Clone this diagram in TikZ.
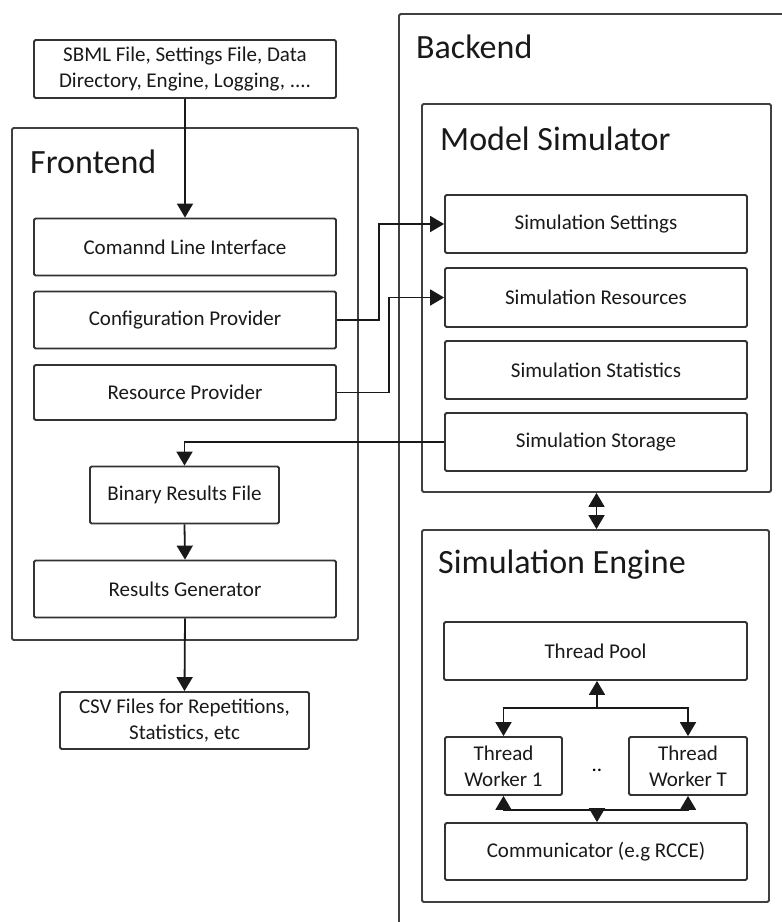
\documentclass[tikz,border=0pt]{standalone}
\usepackage{fontspec}
\setmainfont{Carlito}
\usepackage{xcolor}
\usepackage{tikz}
\usetikzlibrary{arrows.meta}

\begin{document}
\begin{tikzpicture}[x=1pt, y=-1pt,
  box/.style={draw=black!80, line width=1.8pt, rounded corners=1.5pt, minimum width=302pt, minimum height=57pt, inner sep=0pt, align=center, text=black!90, font=\fontsize{21}{26}\selectfont},
  frame/.style={draw=black!75, line width=1.8pt, rounded corners=1.5pt, inner sep=0pt},
  title/.style={anchor=west, inner sep=0pt, text=black!90, font=\fontsize{34}{40}\selectfont},
  arr/.style={-{Triangle[width=16pt,length=14pt]}, line width=1.8pt, draw=black!90},
  dbl/.style={{Triangle[width=16pt,length=14pt]}-{Triangle[width=16pt,length=14pt]}, line width=1.8pt, draw=black!90}]
\useasboundingbox (0,0) rectangle (782,922);

% Frames
\node[frame, minimum width=346pt, minimum height=512pt] (fe) at (185,384) {};
\node[frame, minimum width=401pt, minimum height=926pt] (be) at (599.5,477) {};
\node[frame, minimum width=349pt, minimum height=388pt] (ms) at (596.5,298) {};
\node[frame, minimum width=347pt, minimum height=372pt] (se) at (595.5,716) {};

\node[title] (fetitle) at (30,162) {Frontend};
\node[title] (betitle) at (416,47) {Backend};
\node[title] (mstitle) at (440,139) {Model Simulator};
\node[title] (setitle) at (438,565) {Simulation Engine};

% Frontend
\node[box, minimum height=58pt] (inp) at (185,69) {SBML File, Settings File, Data\\Directory, Engine, Logging, ....};
\node[box] (cli) at (185,247) {Comannd Line Interface};
\node[box] (conf) at (185,320) {Configuration Provider};
\node[box, minimum height=55pt] (res) at (185,392.5) {Resource Provider};
\node[box, minimum width=189pt] (bin) at (184.5,495) {Binary Results File};
\node[box] (gen) at (185,589) {Results Generator};
\node[box, minimum width=249pt] (csv) at (184.5,720.5) {CSV Files for Repetitions,\\Statistics, etc};

% Model simulator
\node[box, minimum height=58pt] (sset) at (596,224) {Simulation Settings};
\node[box, minimum height=59pt] (sres) at (596,297.5) {Simulation Resources};
\node[box, minimum height=58pt] (sstat) at (596,370) {Simulation Statistics};
\node[box, minimum height=58pt] (sstor) at (596,442) {Simulation Storage};

% Simulation engine
\node[box, minimum width=303pt, minimum height=58pt] (pool) at (595.5,651) {Thread Pool};
\node[box, minimum width=117pt, minimum height=58pt] (w1) at (503.5,766) {Thread\\Worker 1};
\node[box, minimum width=118pt, minimum height=58pt] (wT) at (688,766) {Thread\\Worker T};
\node[inner sep=0pt, font=\fontsize{21}{26}\selectfont] (dots) at (597,770) {..};
\node[box] (comm) at (596,851.5) {Communicator (e.g RCCE)};

% Connectors
\draw[arr] (inp.south) -- (cli.north);
\draw[arr] (conf.east) -- ++(42,0) |- (sset.west);
\draw[arr] (res.east) -- ++(52,0) |- (sres.west);
\draw[arr] (sstor.west) -| (bin.north);
\draw[arr] (bin.south) -- (gen.north);
\draw[arr] (gen.south) -- (csv.north);
\draw[dbl] (ms.south) -- (ms.south |- se.north);

\coordinate (top) at (597,708);
\coordinate (bot) at (597,810);
\draw[arr] (top) -- (top |- pool.south);
\draw[arr] (top) -| (w1.north);
\draw[arr] (top) -| (wT.north);
\draw[arr] (bot) -| (w1.south);
\draw[arr] (bot) -| (wT.south);
\draw[arr] (bot) -- (bot |- comm.north);

\end{tikzpicture}
\end{document}
